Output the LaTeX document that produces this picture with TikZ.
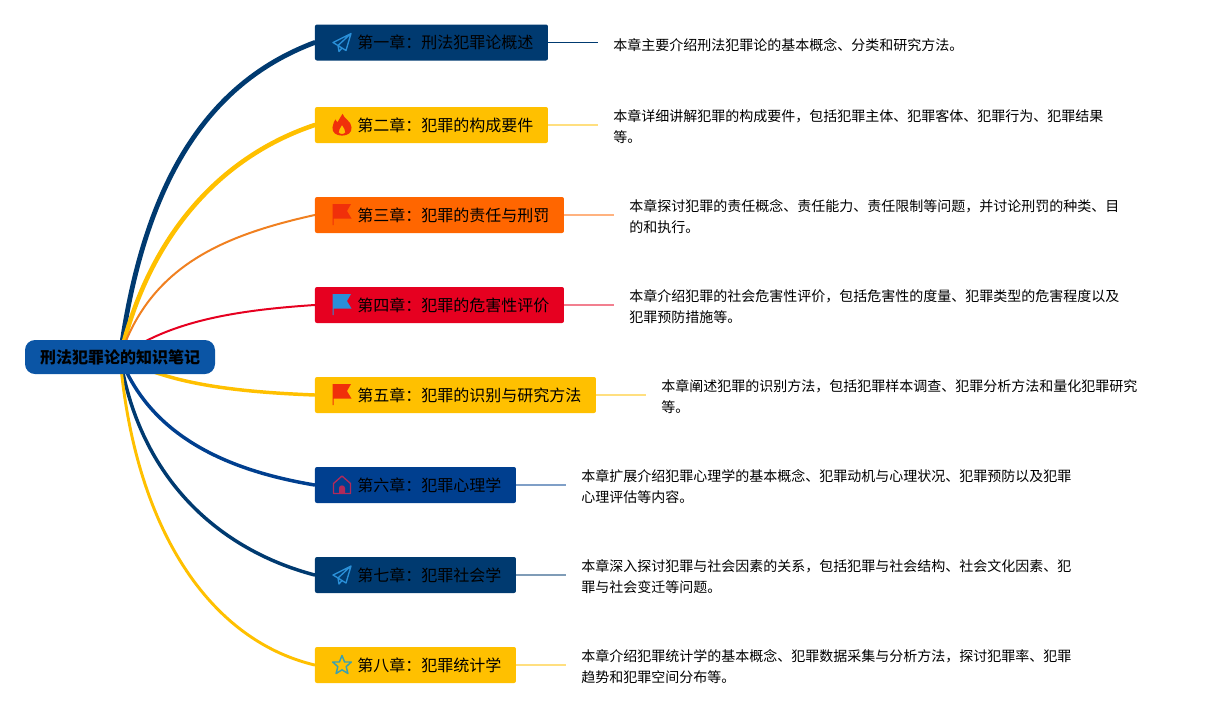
\documentclass[tikz,border=0pt]{standalone}
\usepackage{fontspec}
\setmainfont{Noto Sans CJK SC}
\usetikzlibrary{backgrounds}
\definecolor{navy}{HTML}{003A70}
\definecolor{gold}{HTML}{FFC000}
\definecolor{orangeb}{HTML}{FF6600}
\definecolor{orangel}{HTML}{F08020}
\definecolor{redb}{HTML}{E60020}
\definecolor{blueb}{HTML}{003F8F}
\definecolor{rootb}{HTML}{0B55A5}
\definecolor{skyi}{HTML}{2A8FD8}
\definecolor{flamei}{HTML}{F0300A}
\definecolor{housei}{HTML}{B02A5A}
\definecolor{stari}{HTML}{3AA0B0}
\newcommand{\chap}[1]{\hspace*{31.75pt}#1\hspace*{11pt}}
\newcommand{\fcolon}{\char"FF1A\relax}
\newcommand{\fcomma}{\char"FF0C\relax}
\tikzset{
  x=0.75pt,y=-0.75pt,
  rootbox/.style={fill=rootb,rounded corners=7.5pt,minimum width=142.5pt,minimum height=25.5pt,inner sep=0pt,font=\fontsize{12}{14}\selectfont\bfseries},
  chapbox/.style={fill=#1,rounded corners=1.5pt,minimum height=27pt,inner xsep=0pt,inner ysep=0pt,anchor=west,font=\fontsize{12}{14}\selectfont},
  descnode/.style={anchor=west,inner sep=0pt,align=left,font=\fontsize{10.5}{15.75}\selectfont},
  branch/.style={draw=#1,line cap=round},
  stub/.style={draw=#1,draw opacity=0.5,line width=1.2pt},
  planeicon/.pic={
    \draw[skyi,line width=1pt,line join=round] (9,-9) -- (-9,0) -- (-4,3) -- (9,-9) -- (4,8) -- (-4,3) -- (-3,9) -- (0,5.5);
  },
  flameicon/.pic={
    \fill[flamei,even odd rule,scale=1.12] (0.5,-10) .. controls (2,-5) and (8,-4) .. (8.5,2) .. controls (9,7) and (5,9.5) .. (0,9.5) .. controls (-5,9.5) and (-9,7) .. (-8.5,2) .. controls (-8.5,-1) and (-6.5,-3) .. (-6,-5) .. controls (-5,-3.5) and (-4.5,-3) .. (-4,-2.5) .. controls (-3,-5) and (-1,-7) .. (0.5,-10) -- cycle
      (0,0) .. controls (-1,3) and (-3.5,4) .. (-3,6.5) .. controls (-2.5,8.5) and (2.5,8.5) .. (3,6.5) .. controls (3.5,4) and (1,3) .. (0,0) -- cycle;
  },
  flagicon/.pic={
    \fill[#1] (-9.5,-10) -- (9,-10) -- (5,-3) -- (9.5,4.5) -- (-8.5,4.5) -- (-8.5,11) -- (-9.5,11) -- cycle;
  },
  houseicon/.pic={
    \draw[housei,line width=1pt,line join=round] (-8.5,8.5) -- (-8.5,-1.5) -- (0,-9) -- (8.5,-1.5) -- (8.5,8.5) -- cycle;
    \fill[housei] (-3,8.5) -- (-3,3) .. controls (-3,-0.5) and (3,-0.5) .. (3,3) -- (3,8.5) -- cycle;
  },
  staricon/.pic={
    \draw[stari,line width=1.1pt,line join=round] (0,-9.5) -- (2.6,-3) -- (9.3,-3) -- (4.2,1.6) -- (5.9,8.5) -- (0,4.8) -- (-5.9,8.5) -- (-4.2,1.6) -- (-9.3,-3) -- (-2.6,-3) -- cycle;
  }
}
\begin{document}
\begin{tikzpicture}
\useasboundingbox (0,0) rectangle (1221,715);
\node[rootbox] (root) at (120,357) {刑法犯罪论的知识笔记};
\node[chapbox=navy] (c1) at (314.7,42.5) {\chap{第一章\fcolon 刑法犯罪论概述}};
\node[chapbox=gold] (c2) at (314.7,125) {\chap{第二章\fcolon 犯罪的构成要件}};
\node[chapbox=orangeb] (c3) at (314.7,215) {\chap{第三章\fcolon 犯罪的责任与刑罚}};
\node[chapbox=redb] (c4) at (314.7,305) {\chap{第四章\fcolon 犯罪的危害性评价}};
\node[chapbox=gold] (c5) at (314.7,395) {\chap{第五章\fcolon 犯罪的识别与研究方法}};
\node[chapbox=blueb] (c6) at (314.7,485) {\chap{第六章\fcolon 犯罪心理学}};
\node[chapbox=navy] (c7) at (314.7,575) {\chap{第七章\fcolon 犯罪社会学}};
\node[chapbox=gold] (c8) at (314.7,665) {\chap{第八章\fcolon 犯罪统计学}};
\pic at (342,42.5) {planeicon};
\pic at (342,125) {flameicon};
\pic at (342,214) {flagicon=flamei};
\pic at (342,304) {flagicon=skyi};
\pic at (342,394) {flagicon=flamei};
\pic at (342,485) {houseicon};
\pic at (342,575) {planeicon};
\pic at (342,665) {staricon};
\node[descnode] (d1) at (613,45) {本章主要介绍刑法犯罪论的基本概念、分类和研究方法。};
\node[descnode] (d2) at (613,127) {本章详细讲解犯罪的构成要件\fcomma 包括犯罪主体、犯罪客体、犯罪行为、犯罪结果\\等。};
\node[descnode] (d3) at (629,217) {本章探讨犯罪的责任概念、责任能力、责任限制等问题\fcomma 并讨论刑罚的种类、目\\的和执行。};
\node[descnode] (d4) at (629,307) {本章介绍犯罪的社会危害性评价\fcomma 包括危害性的度量、犯罪类型的危害程度以及\\犯罪预防措施等。};
\node[descnode] (d5) at (661,397) {本章阐述犯罪的识别方法\fcomma 包括犯罪样本调查、犯罪分析方法和量化犯罪研究\\等。};
\node[descnode] (d6) at (581,487) {本章扩展介绍犯罪心理学的基本概念、犯罪动机与心理状况、犯罪预防以及犯罪\\心理评估等内容。};
\node[descnode] (d7) at (581,577) {本章深入探讨犯罪与社会因素的关系\fcomma 包括犯罪与社会结构、社会文化因素、犯\\罪与社会变迁等问题。};
\node[descnode] (d8) at (581,667) {本章介绍犯罪统计学的基本概念、犯罪数据采集与分析方法\fcomma 探讨犯罪率、犯罪\\趋势和犯罪空间分布等。};
\coordinate (e1) at ([xshift=37.5pt]c1.east);
\coordinate (e2) at ([xshift=37.5pt]c2.east);
\coordinate (e3) at ([xshift=37.5pt]c3.east);
\coordinate (e4) at ([xshift=37.5pt]c4.east);
\coordinate (e5) at ([xshift=37.5pt]c5.east);
\coordinate (e6) at ([xshift=37.5pt]c6.east);
\coordinate (e7) at ([xshift=37.5pt]c7.east);
\coordinate (e8) at ([xshift=37.5pt]c8.east);
\begin{scope}[on background layer]
\draw[branch=navy,line width=3.6pt] (root.center) .. controls (145,170) and (215,80) .. (c1.west);
\draw[branch=gold,line width=3.4pt] (root.center) .. controls (150,230) and (225,155) .. (c2.west);
\draw[branch=orangel,line width=1.5pt] (root.center) .. controls (150,265) and (225,235) .. (c3.west);
\draw[branch=redb,line width=1.5pt] (root.center) .. controls (170,320) and (240,310) .. (c4.west);
\draw[branch=gold,line width=2.6pt] (root.center) .. controls (170,385) and (240,392) .. (c5.west);
\draw[branch=blueb,line width=2.6pt] (root.center) .. controls (150,435) and (225,470) .. (c6.west);
\draw[branch=navy,line width=2.6pt] (root.center) .. controls (140,480) and (220,550) .. (c7.west);
\draw[branch=gold,line width=2.2pt] (root.center) .. controls (135,530) and (210,640) .. (c8.west);
\draw[stub=navy,draw opacity=1,line width=0.7pt] (c1.east) -- (e1);
\draw[stub=gold] (c2.east) -- (e2);
\draw[stub=orangeb] (c3.east) -- (e3);
\draw[stub=redb] (c4.east) -- (e4);
\draw[stub=gold] (c5.east) -- (e5);
\draw[stub=blueb] (c6.east) -- (e6);
\draw[stub=navy] (c7.east) -- (e7);
\draw[stub=gold] (c8.east) -- (e8);
\end{scope}
\end{tikzpicture}
\end{document}
